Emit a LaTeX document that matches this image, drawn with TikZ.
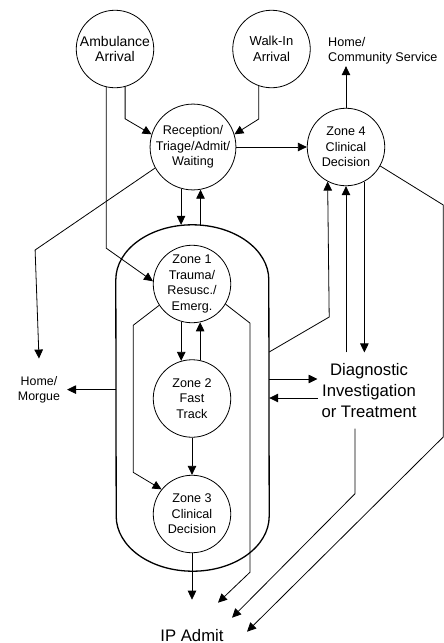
\documentclass[tikz,border=0pt]{standalone}
\usepackage{fontspec}
\setmainfont{Liberation Sans}
\usetikzlibrary{arrows.meta}

\begin{document}
\begin{tikzpicture}[x=1pt, y=-1pt,
	zone/.style={circle, draw=black, line width=0.8pt, minimum size=77.5pt, inner sep=0pt, align=center, font=\fontsize{12.6}{15.5}\selectfont},
	lbl/.style={align=center, inner sep=2pt, font=\fontsize{12.4}{14.5}\selectfont},
	biglbl/.style={align=center, inner sep=3pt, font=\fontsize{16.7}{21}\selectfont},
	flow/.style={draw=black, line width=0.8pt, -{Triangle[length=9pt, width=8.5pt]}},
	wall/.style={draw=black, line width=1.3pt}]
	\useasboundingbox (0,0) rectangle (444,643);

	% the department block
	\node[minimum width=153pt, minimum height=346pt, inner sep=0pt] (cap) at (192.5,398) {};
	\draw[wall] ([yshift=-55pt]cap.north west) arc[start angle=180, end angle=0, x radius=76.5pt, y radius=55pt]
		-- ([yshift=55pt]cap.south east) arc[start angle=0, end angle=-180, x radius=76.5pt, y radius=55pt] -- cycle;

	\node[zone, font=\fontsize{14}{15.5}\selectfont] (amb) at (115,49) {Ambulance\\Arrival};
	\node[zone, font=\fontsize{13}{15.5}\selectfont] (walk) at (271.5,49) {Walk-In\\Arrival};
	\node[zone] (rec) at (193,147) {Reception/\\Triage/Admit/\\Waiting};
	\node[zone] (z4) at (346,147) {Zone 4\\Clinical\\Decision};
	\node[zone] (z1) at (192,284) {Zone 1\\Trauma/\\Resusc./\\Emerg.};
	\node[zone] (z2) at (192,398.5) {Zone 2\\Fast\\Track};
	\node[zone] (z3) at (192,514) {Zone 3\\Clinical\\Decision};

	\node[lbl, align=left, anchor=west, font=\fontsize{12.6}{15}\selectfont] (hcs) at (326,50.6) {Home/\\Community Service};
	\node[lbl, outer xsep=5pt, outer ysep=16pt] (morgue) at (39,389.6) {Home/\\Morgue};
	\node[biglbl, outer xsep=1pt, outer ysep=8pt] (diag) at (369,390.6) {Diagnostic\\Investigation\\or Treatment};
	\node[font=\fontsize{16.7}{21}\selectfont, inner sep=3pt, anchor=base] (ipadm) at (192,641) {IP Admit};

	% arrivals
	\draw[flow] (amb.285) -- ++(0,32) -- (rec.163);
	\draw[flow] (amb.257) -- ++(0,161) -- (z1.176);
	\draw[flow] (walk.251) -- ++(0,33) -- (rec.17);
	\path (rec) edge[flow] (z4);
	\path (z4.north) edge[flow] (z4.north |- hcs.south);

	% reception
	\path (rec.254) edge[flow] (rec.254 |- cap.north);
	\path (rec.280 |- cap.north) edge[flow] (rec.280);
	\draw[flow] (rec.209) -- ++(-120,82) -- (morgue.north);
	\path (cap.west |- morgue.east) edge[flow] (morgue.east);

	% zones
	\path (z1.254) edge[flow] (z2.106);
	\path (z2.78) edge[flow] (z1.282);
	\path (z2) edge[flow] (z3);
	\draw[flow] (z1.213) -- ++(-26,20) -- ++(0,147) -- (z3.141);
	\draw[flow] (z1.329) -- ++(24.5,19) -- ++(0,249) -- ([shift={(26,-23)}]ipadm.north);
	\path (z3) edge[flow] ([shift={(0,-26)}]ipadm.north);

	% diagnostics and zone 4
	\coordinate (cz) at ([yshift=46pt]cap.east);
	\draw[flow] (cz) -- ++(60,-35) -- (z4.242);
	\path (diag.north -| z4.south) edge[flow] (z4.south);
	\path (z4.298) edge[flow] (z4.298 |- diag.north);
	\coordinate (cd) at ([yshift=19pt]cap.east);
	\path (cd) edge[flow] (cd -| diag.west);
	\path (diag.west |- cap.east) edge[flow] (cap.east);
	\draw[flow] ([xshift=-14pt]diag.south) -- ++(0,65) -- ([shift={(40,-8)}]ipadm.north);
	\draw[flow] (z4.331) -- ++(63,39) -- ++(0,232) -- ([shift={(55,6)}]ipadm.north);
\end{tikzpicture}
\end{document}
